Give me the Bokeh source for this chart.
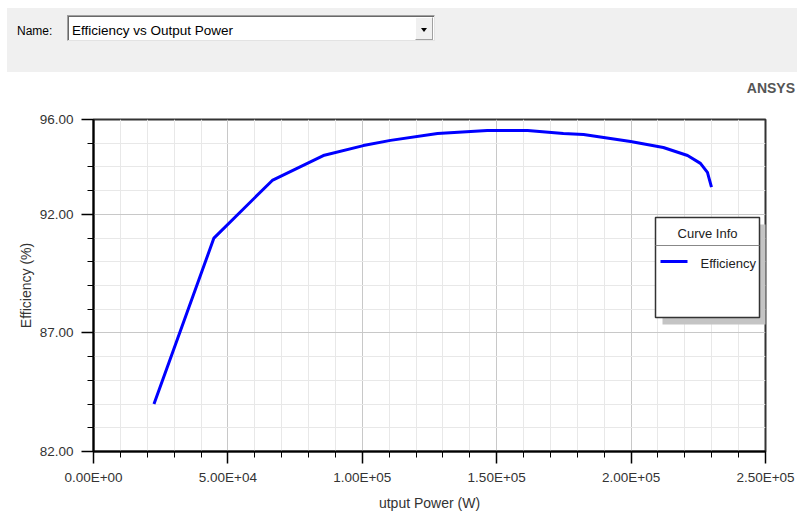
from bokeh.plotting import figure
from bokeh.layouts import column
from bokeh.models import Range1d, FixedTicker, Div, Title
from bokeh.core.properties import value
from bokeh.embed import file_html
from bokeh.resources import INLINE

# ---------------- data ----------------
power_w = [22500, 44800, 66500, 85500, 100400, 110500, 128000, 146500, 161500,
           174800, 182300, 199800, 212000, 221000, 225800, 228400, 229900]
efficiency_pct = [84.0, 91.0, 93.43, 94.48, 94.90, 95.12, 95.41, 95.54, 95.54,
                  95.41, 95.37, 95.07, 94.82, 94.48, 94.15, 93.77, 93.15]

x_ticks = [0, 50000, 100000, 150000, 200000, 250000]
x_tick_labels = ["0.00E+00", "5.00E+04", "1.00E+05", "1.50E+05", "2.00E+05", "2.50E+05"]
x_minor_ticks = [10000, 20000, 30000, 40000, 60000, 70000, 80000, 90000,
                 110000, 120000, 130000, 140000, 160000, 170000, 180000, 190000,
                 210000, 220000, 230000, 240000]
y_ticks = [82, 87, 92, 96]
y_tick_labels = ["82.00", "87.00", "92.00", "96.00"]
y_minor_ticks = [83, 84, 85, 86, 88, 89, 90, 91, 93, 94, 95]

series_name = "Efficiency"
chart_name = "Efficiency vs Output Power"
x_title = "utput Power (W)"
y_title = "Efficiency (%)"
legend_title = "Curve Info"
brand = "ANSYS"

FONT = "Liberation Sans"
TXT = "#333333"
BLUE = "#0000ff"
W = 797

# ---------------- header panel (HTML) ----------------
HH = 105
header_html = f"""
<div style="position:relative;width:{W}px;height:{HH}px;background:#ffffff;
            font-family:'{FONT}',Arial,sans-serif;overflow:hidden;">
  <div style="position:absolute;left:7px;top:8px;width:{W - 7}px;height:64px;background:#f0f0f0;"></div>
  <div style="position:absolute;left:17px;top:24px;height:14px;line-height:14px;
              font-size:12px;color:#000;white-space:nowrap;">Name:</div>
  <div style="position:absolute;left:67px;top:15px;width:368px;height:26px;background:#ffffff;
              border-style:solid;border-width:1px;border-color:#a0a0a0 #e3e3e3 #e3e3e3 #a0a0a0;
              box-shadow:inset 1px 1px 0 #696969;"></div>
  <div style="position:absolute;left:72px;top:22px;height:17px;line-height:17px;
              font-size:13.5px;color:#000;white-space:nowrap;">{chart_name}</div>
  <div style="position:absolute;left:415px;top:17px;width:18px;height:23px;background:#f0f0f0;
              border-style:solid;border-width:1px;border-color:#ffffff #a0a0a0 #a0a0a0 #ffffff;"></div>
  <div style="position:absolute;left:421px;top:28px;width:0;height:0;
              border-left:3.5px solid transparent;border-right:3.5px solid transparent;
              border-top:4px solid #000;"></div>
  <div style="position:absolute;right:2px;top:80px;height:17px;line-height:17px;
              font-size:14px;font-weight:bold;color:#555555;white-space:nowrap;">{brand}</div>
</div>
"""
header = Div(text=header_html, width=W, height=HH, margin=(0, 0, 0, 0))

# ---------------- main plot ----------------
PH = 411
X0, X1 = 0, 250000
Y0, Y1 = 82, 96
FX0, FX1 = 93, 765      # page pixels of the frame
FY0, FY1 = 119, 451


def dx(px):
    return X0 + (px - FX0) / (FX1 - FX0) * (X1 - X0)


def dy(py):
    return Y0 + (FY1 - py) / (FY1 - FY0) * (Y1 - Y0)


p = figure(width=W, height=PH, x_range=Range1d(X0, X1), y_range=Range1d(Y0, Y1),
           output_backend="svg", toolbar_location=None,
           min_border_left=FX0, min_border_right=W - FX1,
           min_border_top=FY0 - HH, min_border_bottom=HH + PH - FY1,
           background_fill_color="white", border_fill_color="white", margin=(0, 0, 0, 0))
p.outline_line_color = "#333333"
p.outline_line_width = 2

xt = FixedTicker(ticks=x_ticks, minor_ticks=x_minor_ticks)
yt = FixedTicker(ticks=y_ticks, minor_ticks=y_minor_ticks)
p.xaxis.ticker = xt
p.yaxis.ticker = yt
p.xgrid.ticker = xt
p.ygrid.ticker = yt
p.xaxis.major_label_overrides = dict(zip(x_ticks, x_tick_labels))
p.yaxis.major_label_overrides = dict(zip(y_ticks, y_tick_labels))

for ax in (p.xaxis, p.yaxis):
    ax.axis_line_color = "#000000"
    ax.axis_line_width = 2
    ax.major_tick_line_color = "#000000"
    ax.major_tick_line_width = 1.5
    ax.minor_tick_line_color = "#000000"
    ax.minor_tick_line_width = 1
    ax.major_tick_in = 0
    ax.major_tick_out = 12
    ax.minor_tick_in = 0
    ax.minor_tick_out = 6
    ax.major_label_text_font = FONT
    ax.major_label_text_font_size = "13.5px"
    ax.major_label_text_color = TXT
p.xaxis.major_label_standoff = 6
p.yaxis.major_label_standoff = 8

p.yaxis.axis_label = y_title
p.yaxis.axis_label_text_font = FONT
p.yaxis.axis_label_text_font_size = "14px"
p.yaxis.axis_label_text_font_style = "normal"
p.yaxis.axis_label_text_color = TXT
p.yaxis.axis_label_standoff = 3

p.add_layout(Title(text=x_title, align="center", offset=-9, text_font=FONT,
                   text_font_size="14px", text_font_style="normal", text_color=TXT),
             "below")

for g in (p.xgrid, p.ygrid):
    g.grid_line_color = "#c8c8c8"
    g.grid_line_width = 1
    g.minor_grid_line_color = "#e8e8e8"
    g.minor_grid_line_width = 1

# data curve
p.line(power_w, efficiency_pct, line_color=BLUE, line_width=3, line_join="round")

# legend box ("Curve Info")
p.quad(left=[dx(662)], right=[dx(770)], top=[dy(224)], bottom=[dy(324)],
       fill_color="#c4c4c4", line_color=None)
p.quad(left=[dx(655)], right=[dx(759)], top=[dy(217)], bottom=[dy(317)],
       fill_color="white", line_color="#333333", line_width=1.5)
p.segment(x0=[dx(655)], y0=[dy(245)], x1=[dx(759)], y1=[dy(245)],
          line_color="#888888", line_width=1)
p.text(x=[dx(707)], y=[dy(233)], text=[legend_title], text_font=value(FONT),
       text_font_size=value("13px"), text_color="#222222",
       text_align="center", text_baseline="middle")
p.segment(x0=[dx(660)], y0=[dy(261)], x1=[dx(687)], y1=[dy(261)],
          line_color=BLUE, line_width=3)
p.text(x=[dx(700)], y=[dy(263)], text=[series_name], text_font=value(FONT),
       text_font_size=value("13px"), text_color="#222222",
       text_align="left", text_baseline="middle")

layout = column(header, p, spacing=0)
open("out.html", "w").write(file_html(layout, INLINE))
